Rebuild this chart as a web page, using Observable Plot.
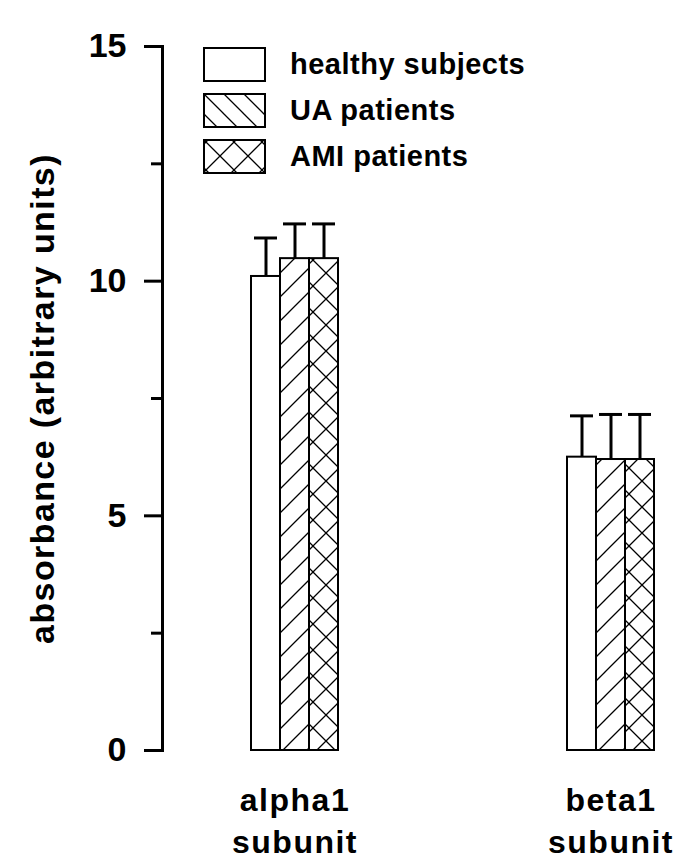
<!DOCTYPE html>
<html><head><meta charset="utf-8">
<script src="https://cdn.jsdelivr.net/npm/d3@7"></script>
<script src="https://cdn.jsdelivr.net/npm/@observablehq/plot@0.6"></script>
<style>
body{margin:0;background:#fff;}
#wrap{position:relative;width:686px;height:867px;font-family:"Liberation Sans",Arial,sans-serif;}
#legend{position:absolute;left:203px;top:47px;}
.lrow{display:flex;align-items:center;height:35px;margin-bottom:11px;}
.lrow svg{display:block;}
.lrow span{margin-left:24px;font-size:29px;font-weight:bold;color:#000;letter-spacing:0.5px;}
g[aria-label="y-axis label"] text{letter-spacing:1.4px;}
g[aria-label="text"] text{letter-spacing:1.5px;}
</style></head><body><div id="wrap"></div>
<script>
const groups = ["alpha1 subunit", "beta1 subunit"];
const groupLabels = ["alpha1\nsubunit", "beta1\nsubunit"];
const series = ["healthy subjects", "UA patients", "AMI patients"];
const alphaMeans = [10.1, 10.48, 10.48];
const alphaErrors = [0.82, 0.74, 0.74];
const betaMeans = [6.25, 6.2, 6.2];
const betaErrors = [0.88, 0.96, 0.96];
const majorTicks = [0, 5, 10, 15];
const minorTicks = [2.5, 7.5, 12.5];
const fills = ["white", "url(#hatchUA)", "url(#hatchAMI)"];

const data = [];
series.forEach((s, i) => data.push({group: groups[0], series: s, mean: alphaMeans[i], err: alphaErrors[i]}));
series.forEach((s, i) => data.push({group: groups[1], series: s, mean: betaMeans[i], err: betaErrors[i]}));
const labelData = groups.map((g, i) => ({group: g, label: groupLabels[i]}));

const plot = Plot.plot({
  width: 686,
  height: 867,
  marginLeft: 161,
  marginRight: 9,
  marginTop: 46,
  marginBottom: 117,
  style: {fontFamily: '"Liberation Sans", Arial, sans-serif', background: "white", color: "black"},
  fx: {domain: groups, paddingInner: 0.372, paddingOuter: 0, axis: null},
  x: {domain: series, paddingInner: 0, paddingOuter: 1.817, align: 0.8, axis: null},
  y: {domain: [0, 15]},
  color: {domain: series, range: fills},
  marks: [
    Plot.barY(data, {fx: "group", x: "series", y: "mean", fill: "series", stroke: "black", strokeWidth: 2}),
    Plot.ruleX(data, {fx: "group", x: "series", y1: "mean", y2: d => d.mean + d.err, strokeWidth: 3, stroke: "black"}),
    Plot.tickY(data, {fx: "group", x: "series", y: d => d.mean + d.err, strokeWidth: 3, stroke: "black", insetLeft: 3, insetRight: 3}),
    Plot.axisY({ticks: majorTicks, tickSize: 18, tickPadding: 18, strokeWidth: 3, fontSize: 34, fontWeight: "bold",
      label: "absorbance (arbitrary units)", labelAnchor: "center", labelArrow: "none", labelOffset: 133}),
    Plot.axisY({ticks: minorTicks, tickSize: 11, tickFormat: () => "", strokeWidth: 3, label: null}),
    Plot.frame({anchor: "left", facetAnchor: "left", strokeWidth: 3, stroke: "black"}),
    Plot.text(labelData, {fx: "group", x: () => "UA patients", text: "label", frameAnchor: "bottom",
      lineAnchor: "top", dy: 31, lineHeight: 1.3, fontSize: 32, fontWeight: "bold", fill: "black"})
  ]
});

const svg = d3.select(plot);
const defs = svg.insert("defs", ":first-child");
const ua = defs.append("pattern").attr("id", "hatchUA").attr("patternUnits", "userSpaceOnUse").attr("width", 24).attr("height", 24);
ua.append("rect").attr("width", 24).attr("height", 24).attr("fill", "white");
ua.append("path").attr("d", "M-6,6 L6,-6 M0,24 L24,0 M18,30 L30,18").attr("stroke", "black").attr("stroke-width", 1.3);
const ami = defs.append("pattern").attr("id", "hatchAMI").attr("patternUnits", "userSpaceOnUse").attr("width", 26).attr("height", 26);
ami.append("rect").attr("width", 26).attr("height", 26).attr("fill", "white");
ami.append("path").attr("d", "M-6.5,6.5 L6.5,-6.5 M0,26 L26,0 M19.5,32.5 L32.5,19.5 M0,0 L26,26 M-6.5,19.5 L6.5,32.5 M19.5,-6.5 L32.5,6.5").attr("stroke", "black").attr("stroke-width", 1.3);

const wrap = document.getElementById("wrap");
wrap.appendChild(plot);

// legend
const legend = d3.select(wrap).append("div").attr("id", "legend");
const lfills = ["white", "url(#legUA)", "url(#legAMI)"];
series.forEach((s, i) => {
  const row = legend.append("div").attr("class", "lrow");
  const sw = row.append("svg").attr("width", 63).attr("height", 35);
  if (i === 0) {
    const d2 = sw.append("defs");
    const p1 = d2.append("pattern").attr("id", "legUA").attr("patternUnits", "userSpaceOnUse").attr("width", 20).attr("height", 20);
    p1.append("path").attr("d", "M0,0 L20,20 M-5,15 L5,25 M15,-5 L25,5").attr("stroke", "black").attr("stroke-width", 1.3);
    const p2 = d2.append("pattern").attr("id", "legAMI").attr("patternUnits", "userSpaceOnUse").attr("width", 28).attr("height", 28).attr("x", 3).attr("y", 3);
    p2.append("path").attr("d", "M0,0 L28,28 M-7,21 L7,35 M21,-7 L35,7 M-7,7 L7,-7 M0,28 L28,0 M21,35 L35,21").attr("stroke", "black").attr("stroke-width", 1.3);
  }
  sw.append("rect").attr("x", 1).attr("y", 1).attr("width", 61).attr("height", 33)
    .attr("fill", lfills[i]).attr("stroke", "black").attr("stroke-width", 2);
  row.append("span").text(s);
});
</script>
</body></html>
